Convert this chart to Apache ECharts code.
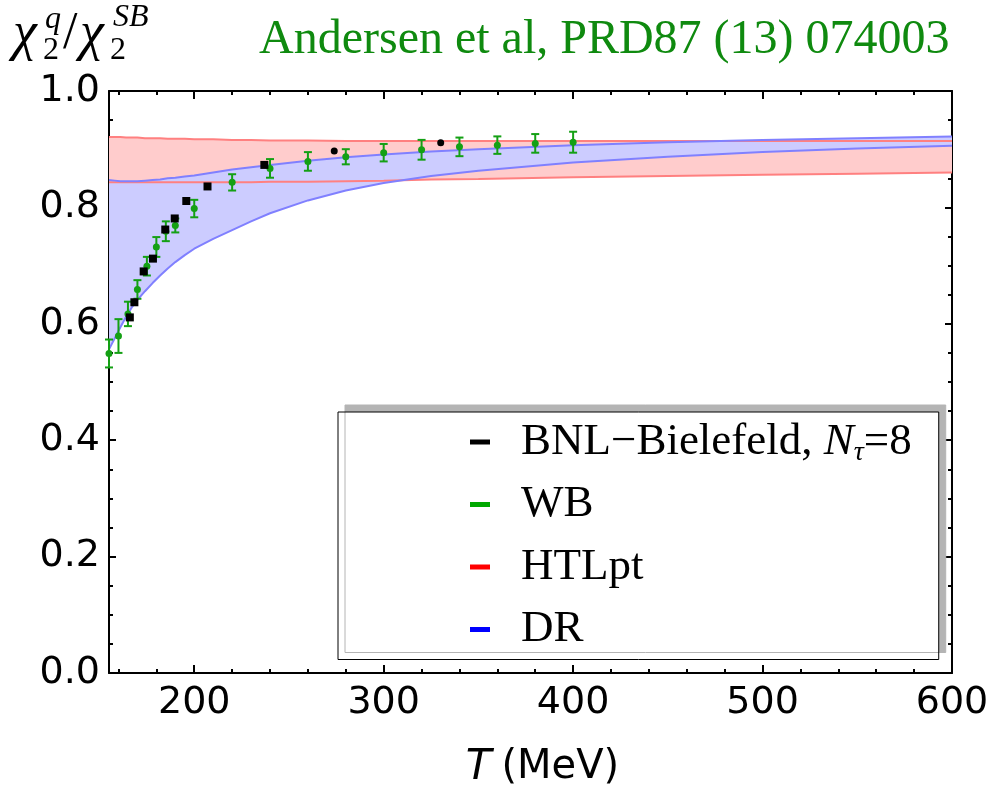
<!DOCTYPE html>
<html><head><meta charset="utf-8">
<script src="https://cdn.jsdelivr.net/npm/echarts@6/dist/echarts.min.js"></script>
<style>html,body{margin:0;padding:0;background:#fff}#c{width:994px;height:791px}</style>
</head><body><div id="c"></div>
<script>
// ---- data ----
const xMajorTicks = [200, 300, 400, 500, 600];
const xMinorTicks = [160,180,200,220,240,260,280,300,320,340,360,380,400,420,440,460,480,500,520,540,560,580,600];
const bandT    = [155,158,161,164,167,170,174,178,182,186,190,195,200,210,220,230,240,260,280,300,325,350,400,450,500,550,600];
const htlLower = [0.843,0.843,0.843,0.843,0.843,0.843,0.843,0.843,0.843,0.843,0.843,0.843,0.843,0.843,0.843,0.843,0.844,0.844,0.845,0.846,0.848,0.849,0.852,0.854,0.856,0.858,0.860];
const htlUpper = [0.921,0.921,0.921,0.920,0.920,0.920,0.919,0.919,0.919,0.918,0.918,0.918,0.917,0.917,0.916,0.916,0.915,0.915,0.914,0.914,0.914,0.914,0.914,0.914,0.914,0.914,0.914];
const drLower  = [0.556,0.575,0.594,0.612,0.628,0.641,0.656,0.670,0.683,0.695,0.706,0.718,0.729,0.746,0.761,0.776,0.790,0.812,0.829,0.842,0.854,0.863,0.877,0.887,0.895,0.901,0.906];
const drUpper  = [0.847,0.846,0.845,0.845,0.845,0.845,0.846,0.847,0.848,0.850,0.851,0.853,0.855,0.860,0.865,0.869,0.873,0.880,0.886,0.891,0.896,0.900,0.907,0.912,0.916,0.919,0.922];
const bnlT   = [166.0,168.4,173.3,178.2,184.7,189.7,195.8,207.0,237.0,273.9,330.1];
const bnlVal = [0.611,0.637,0.690,0.712,0.762,0.781,0.811,0.836,0.873,0.897,0.911];
const wbT   = [155,160,165,170,175,180,185,190,200,220,240,260,280,300,320,340,360,380,400];
const wbVal = [0.549,0.579,0.617,0.659,0.699,0.732,0.759,0.769,0.798,0.843,0.867,0.879,0.887,0.894,0.899,0.904,0.907,0.910,0.912];
const wbErr = [0.024,0.029,0.021,0.016,0.016,0.017,0.017,0.012,0.015,0.014,0.016,0.016,0.013,0.015,0.017,0.016,0.015,0.016,0.018];

// ---- styles ----
const GREEN = '#14a014';
const SERIF = '"Liberation Serif", "Times New Roman", serif';
const SANS = '"DejaVu Sans", sans-serif';

const pairs = (xs, ys) => xs.map((x, i) => [x, ys[i]]);

const chart = echarts.init(document.getElementById('c'), null, {renderer: 'canvas'});

function xAxisDef(pos, ticks, len, showLine, showLabel) {
  return {
    type: 'value', min: 155, max: 600, position: pos,
    axisLine: {show: showLine, onZero: false, lineStyle: {color: '#000', width: 2}},
    axisTick: {show: true, inside: true, length: len, customValues: ticks, lineStyle: {color: '#000', width: 2}},
    axisLabel: showLabel ? {customValues: xMajorTicks, fontSize: 38, fontFamily: SANS, color: '#000', margin: 11} : {show: false},
    splitLine: {show: false}
  };
}
function yAxisDef(pos, showLabel) {
  return {
    type: 'value', min: 0, max: 1, interval: 0.2, position: pos,
    axisLine: {show: true, onZero: false, lineStyle: {color: '#000', width: 2}},
    axisTick: {show: true, inside: true, length: 7, lineStyle: {color: '#000', width: 2}},
    minorTick: {show: true, splitNumber: 4, length: 4, lineStyle: {color: '#000', width: 2}},
    axisLabel: showLabel ? {fontSize: 38, fontFamily: SANS, color: '#000', margin: 9, formatter: v => v.toFixed(1)} : {show: false},
    splitLine: {show: false}, minorSplitLine: {show: false}
  };
}

// band polygon drawn through the axes' coordinate system
function bandSeries(name, lo, hi, fill, z) {
  return {
    name: name, type: 'custom', z: z, silent: true, clip: true,
    itemStyle: {color: fill},
    data: bandT.map((t, i) => [t, lo[i], hi[i]]),
    encode: {x: 0, y: [1, 2]},
    renderItem: (params, api) => {
      if (params.dataIndex !== 0) return null;
      const pts = [];
      for (let i = 0; i < bandT.length; i++) pts.push(api.coord([bandT[i], hi[i]]));
      for (let i = bandT.length - 1; i >= 0; i--) pts.push(api.coord([bandT[i], lo[i]]));
      return {type: 'polygon', shape: {points: pts}, style: {fill: fill}};
    }
  };
}
function edge(name, ys, color) {
  return {name: name, type: 'line', data: pairs(bandT, ys), symbol: 'none',
          lineStyle: {color: color, width: 2}, z: 3, silent: true};
}

const xa0 = xAxisDef('bottom', xMajorTicks, 8, true, true);
xa0.name = '{i|T}{n|(MeV)}';
xa0.nameLocation = 'middle';
xa0.nameGap = 74;
xa0.nameTextStyle = {rich: {
  i: {fontFamily: SANS, fontStyle: 'italic', fontSize: 42, color: '#000', padding: [0, 10, 0, 24]},
  n: {fontFamily: SANS, fontSize: 40, color: '#000'}
}};

const option = {
  backgroundColor: '#fff',
  animation: false,
  grid: {left: 109, right: 42, top: 91, bottom: 118, containLabel: false, outerBoundsMode: 'none'},
  title: {
    text: 'Andersen et al, PRD87 (13) 074003',
    left: 254, top: 11,
    textStyle: {fontFamily: SERIF, fontSize: 48, fontWeight: 'normal', color: '#0f8a0f'}
  },
  xAxis: [
    xa0,
    xAxisDef('bottom', xMinorTicks, 4, false, false),
    xAxisDef('top', xMajorTicks, 8, true, false),
    xAxisDef('top', xMinorTicks, 4, false, false)
  ],
  yAxis: [yAxisDef('left', true), yAxisDef('right', false)],
  legend: {
    orient: 'vertical', left: 338, top: 412,
    padding: [5, 27, 5, 132],
    itemGap: 12.5, itemWidth: 20, itemHeight: 5, icon: 'rect',
    backgroundColor: '#fff', borderColor: '#000', borderWidth: 1,
    shadowColor: '#b4b4b4', shadowBlur: 0, shadowOffsetX: 7, shadowOffsetY: -7,
    selectedMode: false,
    data: [
      {name: 'BNL−Bielefeld', itemStyle: {color: '#000', opacity: 1}},
      {name: 'WB', itemStyle: {color: '#00a800', opacity: 1}},
      {name: 'HTLpt', itemStyle: {color: '#ff0000', opacity: 1}},
      {name: 'DR', itemStyle: {color: '#0000ff', opacity: 1}}
    ],
    formatter: n => n === 'BNL−Bielefeld' ? '{t|BNL−Bielefeld, }{i|N}{s|τ}{t|=8}' : '{t|' + n + '}',
    textStyle: {
      padding: [0, 0, 0, 26], lineHeight: 50,
      rich: {
        t: {fontFamily: SERIF, fontSize: 45, color: '#000', lineHeight: 50},
        i: {fontFamily: SERIF, fontSize: 45, fontStyle: 'italic', color: '#000', lineHeight: 50},
        s: {fontFamily: SERIF, fontSize: 28, fontStyle: 'italic', color: '#000', lineHeight: 28, verticalAlign: 'bottom'}
      }
    }
  },
  graphic: [
    {type: 'text', x: 13, y: 8, style: {text: 'χ', fontFamily: SERIF, fontStyle: 'italic', fontSize: 54, fill: '#000'}},
    {type: 'text', x: 45, y: 4, style: {text: 'q', fontFamily: SERIF, fontStyle: 'italic', fontSize: 32, fill: '#000'}},
    {type: 'text', x: 43, y: 35, style: {text: '2', fontFamily: SERIF, fontSize: 32, fill: '#000'}},
    {type: 'text', x: 63, y: 8, style: {text: '/', fontFamily: SERIF, fontSize: 52, fill: '#000'}},
    {type: 'text', x: 80, y: 8, style: {text: 'χ', fontFamily: SERIF, fontStyle: 'italic', fontSize: 54, fill: '#000'}},
    {type: 'text', x: 110, y: 35, style: {text: '2', fontFamily: SERIF, fontSize: 32, fill: '#000'}},
    {type: 'text', x: 113, y: 2, style: {text: 'SB', fontFamily: SERIF, fontStyle: 'italic', fontSize: 32, fill: '#000'}}
  ],
  series: [
    bandSeries('HTLpt', htlLower, htlUpper, '#ffcccc', 1),
    bandSeries('DR', drLower, drUpper, '#ccccff', 2),
    edge('htlLo', htlLower, '#ff8080'),
    edge('htlHi', htlUpper, '#ff8080'),
    edge('drLo', drLower, '#8080ff'),
    edge('drHi', drUpper, '#8080ff'),
    // WB error bars
    {name: 'wbErr', type: 'custom', z: 4,
     data: wbT.map((t, i) => [t, wbVal[i] - wbErr[i], wbVal[i] + wbErr[i]]),
     encode: {x: 0, y: [1, 2]},
     renderItem: (params, api) => {
       const lo = api.coord([api.value(0), api.value(1)]);
       const hi = api.coord([api.value(0), api.value(2)]);
       const w = 4, st = {stroke: GREEN, lineWidth: 2};
       return {type: 'group', children: [
         {type: 'line', shape: {x1: lo[0], y1: lo[1], x2: hi[0], y2: hi[1]}, style: st},
         {type: 'line', shape: {x1: lo[0] - w, y1: lo[1], x2: lo[0] + w, y2: lo[1]}, style: st},
         {type: 'line', shape: {x1: hi[0] - w, y1: hi[1], x2: hi[0] + w, y2: hi[1]}, style: st}
       ]};
     }},
    {name: 'WB', type: 'scatter', data: pairs(wbT, wbVal), symbol: 'circle', symbolSize: 7,
     itemStyle: {color: GREEN, opacity: 1}, z: 5},
    {name: 'BNL−Bielefeld', type: 'scatter', z: 5, itemStyle: {color: '#000', opacity: 1},
     data: bnlT.map((t, i) => ({value: [t, bnlVal[i]], symbol: i >= 9 ? 'circle' : 'rect', symbolSize: i >= 9 ? 7 : 8}))}
  ]
};
chart.setOption(option);
</script>
</body></html>
